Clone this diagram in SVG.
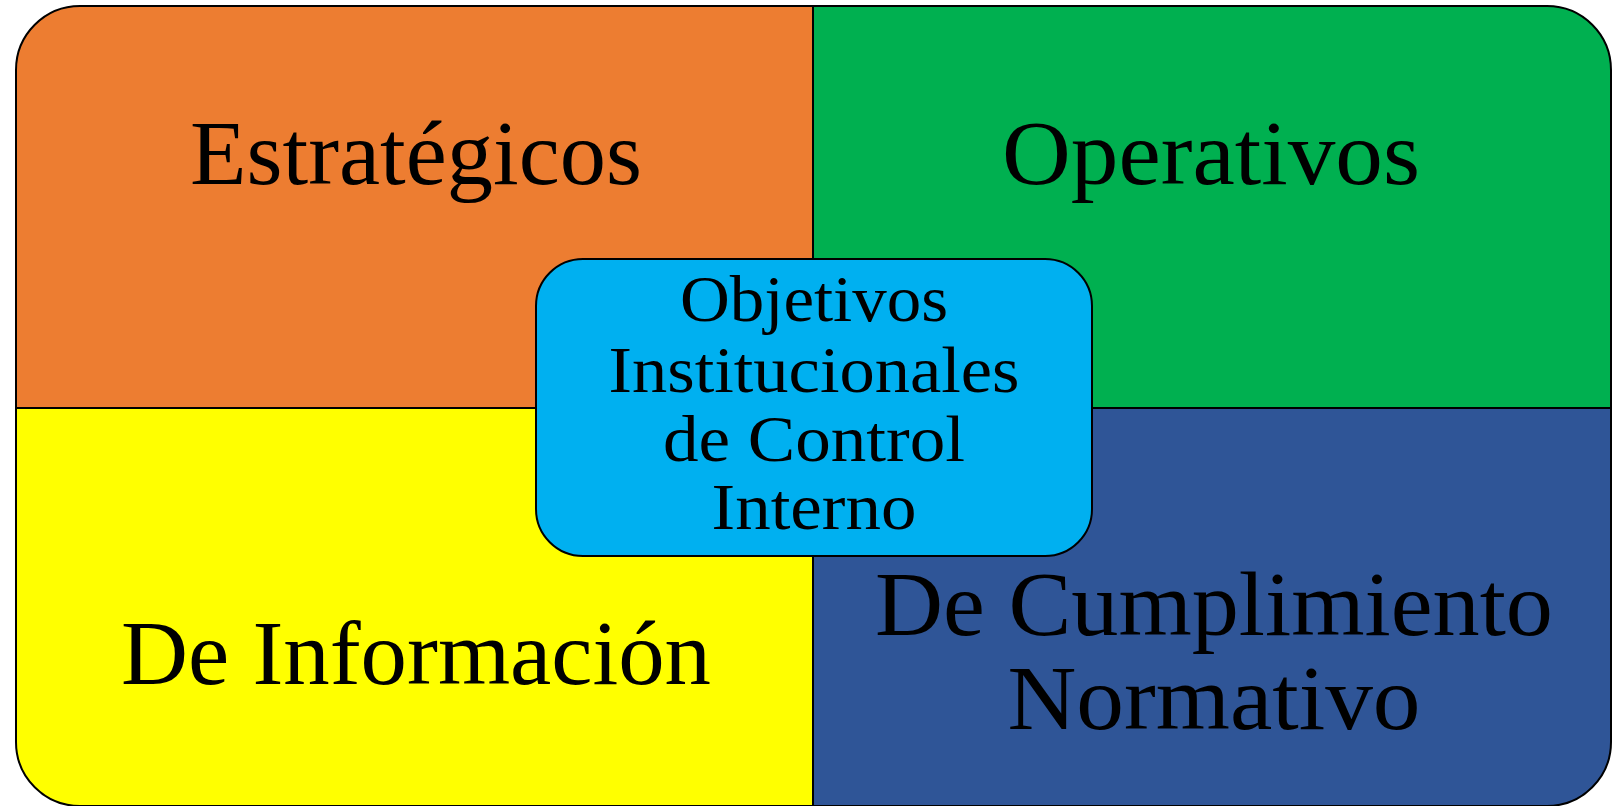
<svg xmlns="http://www.w3.org/2000/svg" width="1621" height="806" viewBox="0 0 1621 806">
<style>
.q{stroke:#000;stroke-width:2;}
.big{font-family:"Liberation Serif","DejaVu Serif",serif;font-size:92px;fill:#000;text-anchor:middle;}
.mid{font-family:"Liberation Serif","DejaVu Serif",serif;font-size:65px;fill:#000;text-anchor:middle;}
</style>
<rect width="1621" height="806" fill="#fff"/>
<g id="estrategicos">
<path class="q" fill="#ED7D31" d="M16,408 V70 A64,64 0 0 1 80,6 H813 V408 Z"/>
<text class="big" x="416" y="184" textLength="452" lengthAdjust="spacingAndGlyphs">Estratégicos</text>
</g>
<g id="operativos">
<path class="q" fill="#00B050" d="M813,6 H1547 A64,64 0 0 1 1611,70 V408 H813 Z"/>
<text class="big" x="1211" y="184" textLength="418" lengthAdjust="spacingAndGlyphs">Operativos</text>
</g>
<g id="informacion">
<path class="q" fill="#FFFF00" d="M16,408 H813 V806 H80 A64,64 0 0 1 16,742 Z"/>
<text class="big" x="416" y="684" textLength="590" lengthAdjust="spacingAndGlyphs">De Información</text>
</g>
<g id="cumplimiento">
<path class="q" fill="#2F5597" d="M813,408 H1611 V742 A64,64 0 0 1 1547,806 H813 Z"/>
<text class="big" x="1214" y="635" textLength="678" lengthAdjust="spacingAndGlyphs">De Cumplimiento</text>
<text class="big" x="1214" y="729" textLength="413" lengthAdjust="spacingAndGlyphs">Normativo</text>
</g>
<g id="centro">
<rect class="q" fill="#00B0F0" x="536" y="259" width="556" height="297" rx="47" ry="47"/>
<text class="mid" x="814" y="321" textLength="268" lengthAdjust="spacingAndGlyphs">Objetivos</text>
<text class="mid" x="814" y="392" textLength="411" lengthAdjust="spacingAndGlyphs">Institucionales</text>
<text class="mid" x="814" y="461" textLength="302" lengthAdjust="spacingAndGlyphs">de Control</text>
<text class="mid" x="814" y="529" textLength="205" lengthAdjust="spacingAndGlyphs">Interno</text>
</g>
<g id="connectors"/>
</svg>
